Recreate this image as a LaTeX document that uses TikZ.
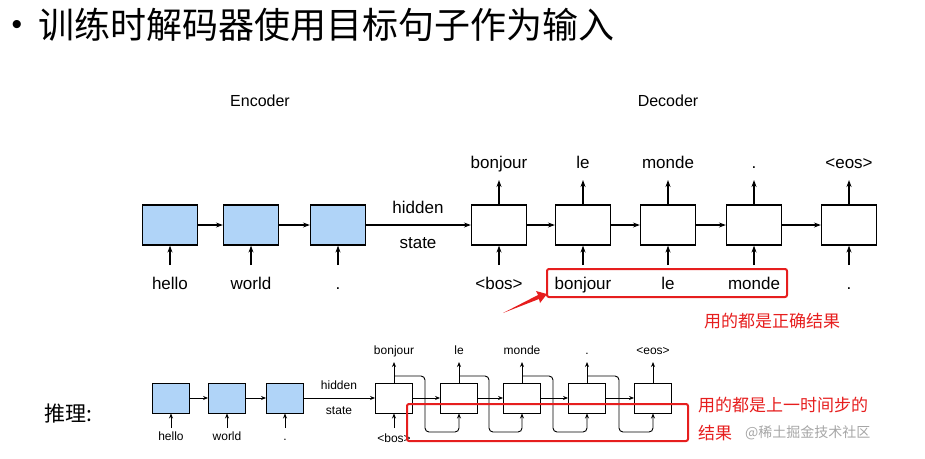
\documentclass[tikz,border=0pt]{standalone}
\usepackage{fontspec}
\setmainfont{Liberation Sans}
\newfontfamily\cjk{Noto Sans CJK SC}
\usetikzlibrary{arrows.meta}
\definecolor{cellblue}{RGB}{176,212,248}
\definecolor{redc}{RGB}{230,30,30}
\begin{document}
\begin{tikzpicture}[x=1pt,y=-1pt,
  enc/.style={draw,line width=1.2pt,fill=cellblue,minimum width=55pt,minimum height=40pt,inner sep=0},
  dec/.style={draw,line width=1.2pt,fill=white,minimum width=55pt,minimum height=40pt,inner sep=0},
  encs/.style={draw,line width=0.9pt,fill=cellblue,minimum width=37pt,minimum height=30pt,inner sep=0},
  decs/.style={draw,line width=0.9pt,fill=white,minimum width=37pt,minimum height=30pt,inner sep=0},
  lb/.style={font=\fontsize{17}{17}\selectfont,inner sep=0,anchor=base},
  lbs/.style={font=\fontsize{12}{12}\selectfont,inner sep=0,anchor=base},
  ar/.style={-{Stealth[length=7pt,width=5pt]},line width=1.3pt},
  ars/.style={-{Stealth[length=5pt,width=4pt]},line width=0.9pt},
  redb/.style={draw=redc,line width=2pt,rounded corners=2pt}]
\useasboundingbox (0,0) rectangle (925,458);
\node[font=\fontsize{30}{30}\selectfont,inner sep=0] (bul) at (17,27) {•};
\node[anchor=west,font=\cjk\fontsize{36}{36}\selectfont,inner sep=0] (title) at (38,25) {训练时解码器使用目标句子作为输入};
\node[font=\fontsize{16}{16}\selectfont] (encl) at (260,101) {Encoder};
\node[font=\fontsize{16}{16}\selectfont] (decl) at (668,101) {Decoder};
% top encoder
\foreach \n/\x/\w in {e1/170/hello,e2/251/world,e3/338/.}{
  \node[enc] (\n) at (\x,225) {};
  \node[lb] (\n in) at (\x,289) {\w};
  \draw[ar] (\x,265) -- (\n.south);
}
\draw[ar] (e1) -- (e2); \draw[ar] (e2) -- (e3);
\foreach \n/\x/\i/\o in {d1/499/<bos>/bonjour,d2/583/bonjour/le,d3/668/le/monde,d4/754/monde/.,d5/849/./<eos>}{
  \node[dec] (\n) at (\x,225) {};
  \node[lb] (\n in) at (\x,289) {\i};
  \node[lb] (\n out) at (\x,168) {\o};
  \draw[ar] (\x,265) -- (\n.south);
  \draw[ar] (\n.north) -- (\x,180);
}
\draw[ar] (e3) -- (d1);
\draw[ar] (d1) -- (d2); \draw[ar] (d2) -- (d3); \draw[ar] (d3) -- (d4); \draw[ar] (d4) -- (d5);
\node[lb] (hid) at (418,213) {hidden};
\node[lb] (st) at (418,248) {state};
\draw[redb] (547,269) rectangle (787,297);
\fill[redc] (503,313) -- (538,295) -- (536,291) -- (547,294) -- (540,303) -- (539,299) -- cycle;
\node[anchor=west,text=redc,font=\cjk\fontsize{17}{17}\selectfont,inner sep=0] (t1) at (704,321) {用的都是正确结果};
% bottom
\node[font=\cjk\fontsize{21}{21}\selectfont,inner sep=0] (inf) at (68,414) {推理:};
\foreach \n/\x/\w in {f1/171/hello,f2/227/world,f3/285/.}{
  \node[encs] (\n) at (\x,398) {};
  \node[lbs] (\n in) at (\x,440) {\w};
  \draw[ars] (\x,428) -- (\n.south);
}
\draw[ars] (f1) -- (f2); \draw[ars] (f2) -- (f3);
\foreach \n/\x/\o in {g1/394/bonjour,g2/459/le,g3/522/monde,g4/587/.,g5/653/<eos>}{
  \node[decs] (\n) at (\x,398) {};
  \node[lbs] (\n out) at (\x,354) {\o};
  \draw[ars] (\n.north) -- (\x,362);
}
\node[lbs] (g1 in) at (394,442) {<bos>};
\draw[ars] (394,428) -- (g1.south);
\draw[ars] (f3) -- (g1);
\draw[ars] (g1) -- (g2); \draw[ars] (g2) -- (g3); \draw[ars] (g3) -- (g4); \draw[ars] (g4) -- (g5);
\foreach \a/\b/\xa/\xm/\xb in {g1/g2/394/425/459,g2/g3/459/489/522,g3/g4/522/553/587,g4/g5/587/619/653}{
  \draw[ars,rounded corners=4pt] (\xa,376) -- (\xm,376) -- (\xm,432) -- (\xb,432) -- (\b.south);
}
\node[lbs] (hid2) at (339,389) {hidden};
\node[lbs] (st2) at (339,414) {state};
\draw[redb] (407,404) rectangle (688,441);
\node[anchor=west,text=redc,font=\cjk\fontsize{17}{17}\selectfont,inner sep=0] (t2) at (698,405) {用的都是上一时间步的};
\node[anchor=west,text=redc,font=\cjk\fontsize{17}{17}\selectfont,inner sep=0] (t3) at (698,433) {结果};
\node[anchor=west,text=gray!70,font=\cjk\fontsize{14}{14}\selectfont,inner sep=0] (wm) at (745,433) {@稀土掘金技术社区};
\end{tikzpicture}
\end{document}
